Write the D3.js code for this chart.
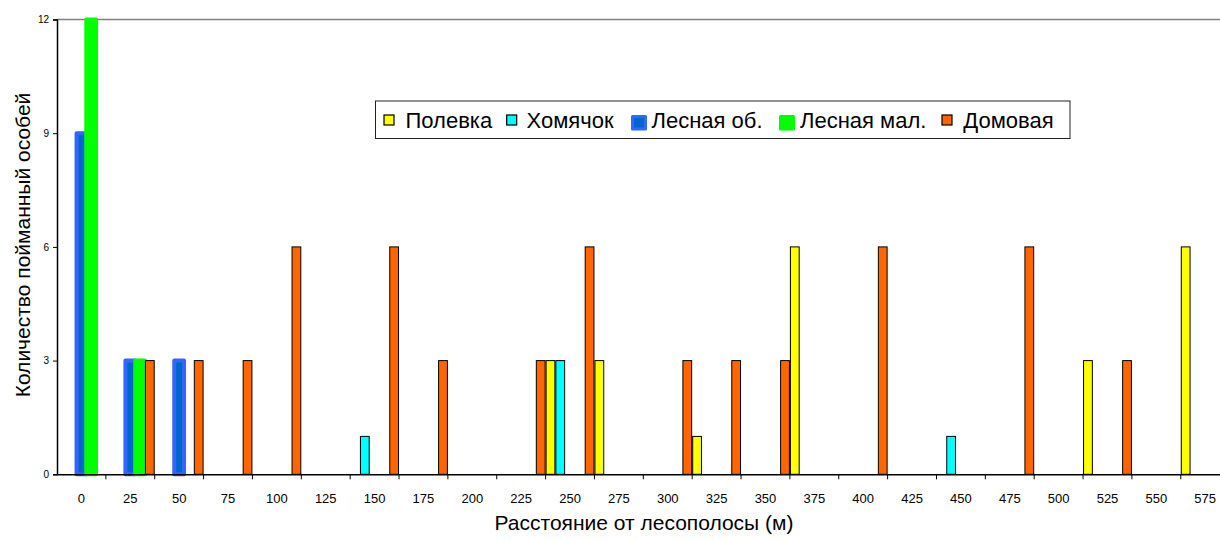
<!DOCTYPE html>
<html><head><meta charset="utf-8">
<script src="https://cdn.jsdelivr.net/npm/d3@7/dist/d3.min.js"></script>
<style>body{margin:0;background:#fff}svg{display:block;font-family:"Liberation Sans",Arial,sans-serif}</style>
</head><body><svg id="c" width="1220" height="541"></svg>
<script>
const categories = ["0","25","50","75","100","125","150","175","200","225","250","275","300","325","350","375","400","425","450","475","500","525","550","575"];
const seriesNames = ["Полевка","Хомячок","Лесная об.","Лесная мал.","Домовая"];
const polevka   = [0,0,0,0,0,0,0,0,0,0,3,3,0,1,0,6,0,0,0,0,0,3,0,6];
const homyachok = [0,0,0,0,0,0,1,0,0,0,3,0,0,0,0,0,0,0,1,0,0,0,0,0];
const lesnayaOb = [9,3,3,0,0,0,0,0,0,0,0,0,0,0,0,0,0,0,0,0,0,0,0,0];
const lesnayaMal= [12,3,0,0,0,0,0,0,0,0,0,0,0,0,0,0,0,0,0,0,0,0,0,0];
const domovaya  = [0,3,3,3,6,0,6,3,0,3,6,0,3,3,3,0,6,0,0,6,0,3,0,0];
const yTicks = [0,3,6,9,12];
const xTitle = "Расстояние от лесополосы (м)";
const yTitle = "Количество пойманный особей";

const seriesValues = [polevka, homyachok, lesnayaOb, lesnayaMal, domovaya];
const styles = [
  {fill:"#FFFF00", stroke:"#000", sw:1, join:"miter"},
  {fill:"#00FFFF", stroke:"#000", sw:1, join:"miter"},
  {fill:"#0066CC", stroke:"#3366FF", sw:4, join:"round"},
  {fill:"#00FF00", stroke:"#00FF00", sw:4, join:"round"},
  {fill:"#FF6600", stroke:"#000", sw:1, join:"miter"}
];

const svg = d3.select("#c");
const left = 57, bw = 48.86;
const x = d3.scaleBand().domain(categories).range([left, left + bw*categories.length]).paddingInner(0).paddingOuter(0);
const x1 = d3.scaleBand().domain(seriesNames).range([0, x.bandwidth()]).padding(0);
const y = d3.scaleLinear().domain([0,12]).range([474.3, 19.5]);

// top border line
svg.append("line").attr("x1", left).attr("x2", 1230).attr("y1", y(12)).attr("y2", y(12))
  .attr("stroke","#808080").attr("stroke-width",1.5);

// bars
seriesNames.forEach((s, si) => {
  const st = styles[si];
  svg.append("g").selectAll("rect")
    .data(seriesValues[si].map((v,i)=>({v, c:categories[i]})).filter(d=>d.v>0))
    .join("rect")
    .attr("x", d => x(d.c) + x1(s) + (st.sw>1?0:0.5))
    .attr("width", x1.bandwidth() - (st.sw>1?0:1))
    .attr("y", d => y(d.v))
    .attr("height", d => y(0) - y(d.v))
    .attr("fill", st.fill).attr("stroke", st.stroke)
    .attr("stroke-width", st.sw).attr("stroke-linejoin", st.join);
});

// y axis
const yAxis = svg.append("g").attr("transform", `translate(${left},0)`)
  .call(d3.axisLeft(y).tickValues(yTicks).tickSize(4).tickPadding(4));
yAxis.select(".domain").attr("stroke","#000").attr("stroke-width",1.5);
yAxis.selectAll(".tick line").attr("stroke","#000");
yAxis.selectAll("text").attr("font-size","10px").attr("fill","#000").attr("font-family","Liberation Sans, Arial");

// x axis
const xAxis = svg.append("g").attr("transform", `translate(0,${y(0)})`)
  .call(d3.axisBottom(x).tickSize(0).tickPadding(19));
xAxis.select(".domain").attr("stroke","#000").attr("stroke-width",1.5);
xAxis.selectAll("text").attr("font-size","13px").attr("fill","#000").attr("font-family","Liberation Sans, Arial");
xAxis.selectAll(".bt").data(categories.slice(1)).join("line")
  .attr("x1", d => x(d)).attr("x2", d => x(d)).attr("y1", 0).attr("y2", 5)
  .attr("stroke","#000").attr("stroke-width",1);
xAxis.append("line").attr("x1", x(categories[categories.length-1]) + bw).attr("x2", x(categories[categories.length-1]) + bw)
  .attr("y1",0).attr("y2",5).attr("stroke","#000");

// titles
svg.append("text").attr("x", 644).attr("y", 530).attr("text-anchor","middle")
  .attr("font-size","21px").attr("fill","#000").text(xTitle);
svg.append("text").attr("transform","translate(30,245) rotate(-90)").attr("text-anchor","middle")
  .attr("font-size","21px").attr("fill","#000").text(yTitle);

// legend
const lg = svg.append("g");
lg.append("rect").attr("x",375.5).attr("y",101).attr("width",694.5).attr("height",37.5)
  .attr("fill","#fff").attr("stroke","#222").attr("stroke-width",1);
const legX = [384, 506.7, 631, 779, 942];
const legTextX = [405.5, 526.5, 651.5, 800, 963.3];
seriesNames.forEach((s, si) => {
  const st = styles[si];
  const big = st.sw > 1;
  lg.append("rect").attr("x", legX[si] + (big?1.5:0)).attr("y", 115 + (big?1.5:0))
    .attr("width", big?13:10).attr("height", big?12.5:10)
    .attr("fill", st.fill).attr("stroke", st.stroke).attr("stroke-width", big?3:1.2)
    .attr("stroke-linejoin", st.join);
  lg.append("text").attr("x", legTextX[si]).attr("y", 128).attr("font-size","22px").attr("fill","#000").text(s);
});
</script></body></html>
